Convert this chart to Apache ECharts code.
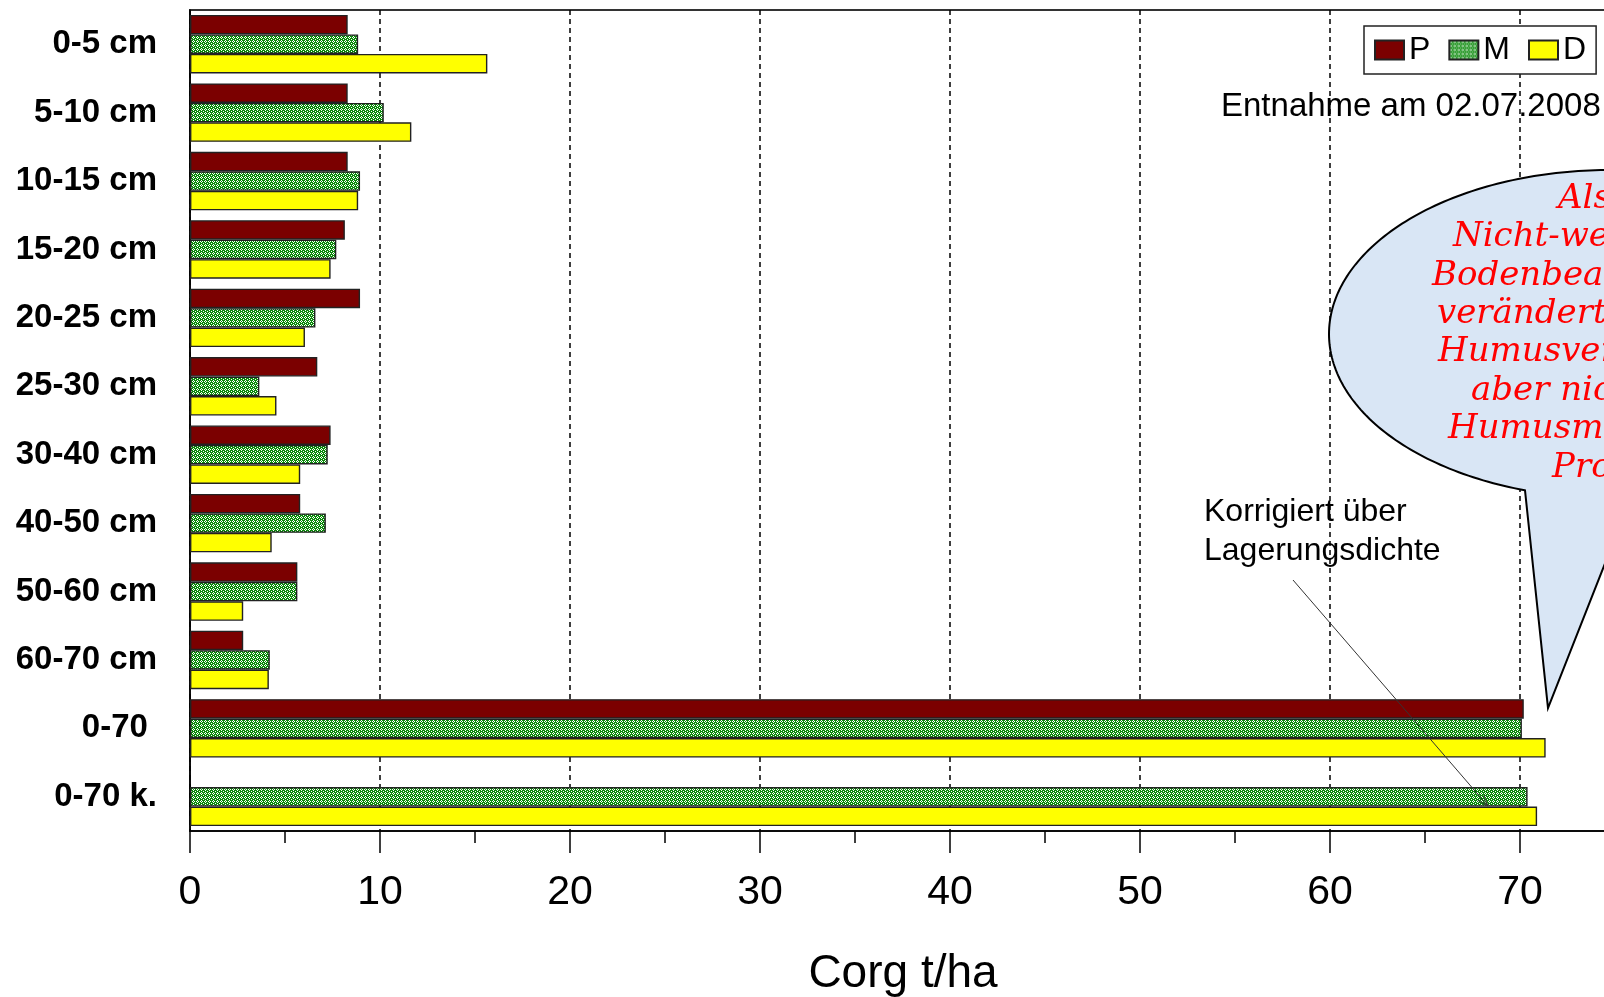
<!DOCTYPE html>
<html>
<head>
<meta charset="utf-8">
<title>Corg t/ha</title>
<script src="https://cdn.jsdelivr.net/npm/echarts@6/dist/echarts.min.js"></script>
<style>
  html, body { margin: 0; padding: 0; background: #ffffff; }
  #chart { width: 1604px; height: 997px; }
</style>
</head>
<body>
<div id="chart"></div>
<script>
// Soil depth layers (top to bottom) and the profile totals
const depths = ['0-5 cm', '5-10 cm', '10-15 cm', '15-20 cm', '20-25 cm', '25-30 cm',
                '30-40 cm', '40-50 cm', '50-60 cm', '60-70 cm', '0-70 ', '0-70 k.'];

// Corg stock in t/ha per variant
const seriesNames = ['P', 'M', 'D'];
const valuesP = [8.3, 8.3, 8.3, 8.15, 8.95, 6.7, 7.4, 5.8, 5.65, 2.8, 70.2, null];
const valuesM = [8.85, 10.2, 8.95, 7.7, 6.6, 3.65, 7.25, 7.15, 5.65, 4.2, 70.1, 70.4];
const valuesD = [15.65, 11.65, 8.85, 7.4, 6.05, 4.55, 5.8, 4.3, 2.8, 4.15, 71.35, 70.9];

// Value axis range and tick step
const xMin = 0, xMax = 80, xStep = 10;

// Texts
const axisTitle = 'Corg t/ha';
const dateNote = 'Entnahme am 02.07.2008';
const correctionNote = ['Korrigiert über', 'Lagerungsdichte'];
const bubbleLines = ['Also:', 'Nicht-wendende', 'Bodenbearbeitung', 'verändert die',
                     'Humusverteilung,', 'aber nicht die', 'Humusmenge im', 'Profil'];

// Green cross-hatch fill for variant M
function makeHatch() {
  const c = document.createElement('canvas');
  c.width = 4; c.height = 4;
  const g = c.getContext('2d');
  g.fillStyle = '#0a8a0a';
  g.fillRect(0, 0, 4, 4);
  g.fillStyle = '#ffffff';
  [[1, 0], [0, 1], [2, 1], [1, 2], [3, 3]].forEach(p => g.fillRect(p[0], p[1], 1, 1));
  return c;
}
const hatch = { image: makeHatch(), repeat: 'repeat' };

const fills = ['#7b0000', hatch, '#ffff00'];
const dataSets = [valuesP, valuesM, valuesD];

const chart = echarts.init(document.getElementById('chart'), null, { renderer: 'canvas' });

// Speech bubble outline: tail triangle joined to an elliptical body
const ell = { cx: 1610, cy: 334, rx: 281, ry: 164 };
function onEllipse(t) { return [ell.cx + ell.rx * Math.cos(t), ell.cy + ell.ry * Math.sin(t)]; }
const tA = Math.acos((1525 - ell.cx) / ell.rx);   // left foot of the tail
const tB = Math.acos((1631 - ell.cx) / ell.rx);   // right foot of the tail
const tailTip = [1548, 708];
const bubblePts = [onEllipse(tA), tailTip, onEllipse(tB)];
for (let t = tB - 0.02; t > tA - 2 * Math.PI; t -= 0.02) bubblePts.push(onEllipse(t));

const bubbleLineX = [1558, 1453, 1432, 1437, 1438, 1471, 1448, 1552];
const bubbleTop = 211, bubbleStep = 38.4;

// Arrow from the correction note to the corrected bars
const arrowFrom = [1293, 580], arrowTo = [1488, 806];
const dx = arrowTo[0] - arrowFrom[0], dy = arrowTo[1] - arrowFrom[1];
const len = Math.hypot(dx, dy), ux = dx / len, uy = dy / len;
const headL = 11, headW = 4;
const headPts = [
  [arrowTo[0] - headL * ux - headW * uy, arrowTo[1] - headL * uy + headW * ux],
  arrowTo,
  [arrowTo[0] - headL * ux + headW * uy, arrowTo[1] - headL * uy - headW * ux]
];

const graphics = [
  {
    type: 'polygon', z: 50,
    shape: { points: bubblePts },
    style: { fill: '#d9e6f5', stroke: '#000000', lineWidth: 2, lineJoin: 'miter' }
  },
  ...bubbleLines.map((t, i) => ({
    type: 'text', z: 51,
    style: {
      text: t, x: bubbleLineX[i], y: bubbleTop + i * bubbleStep - 12,
      fill: '#ff0000', font: 'italic 34px "DejaVu Serif"',
      align: 'left', verticalAlign: 'middle'
    }
  })),
  {
    type: 'text', z: 51,
    style: {
      text: dateNote, x: 1221, y: 107, fill: '#000000',
      font: '33px "Liberation Sans", Arial, sans-serif', align: 'left', verticalAlign: 'middle'
    }
  },
  ...correctionNote.map((t, i) => ({
    type: 'text', z: 51,
    style: {
      text: t, x: 1204, y: 512 + i * 39, fill: '#000000',
      font: '32px "Liberation Sans", Arial, sans-serif', align: 'left', verticalAlign: 'middle'
    }
  })),
  {
    type: 'line', z: 52,
    shape: { x1: arrowFrom[0], y1: arrowFrom[1], x2: arrowTo[0], y2: arrowTo[1] },
    style: { stroke: '#333333', lineWidth: 1 }
  },
  {
    type: 'polyline', z: 52,
    shape: { points: headPts },
    style: { stroke: '#333333', lineWidth: 1, fill: null }
  }
];

const option = {
  backgroundColor: '#ffffff',
  animation: false,
  grid: {
    left: 190, top: 10, width: 1520, height: 821,
    containLabel: false,
    outerBoundsMode: 'none',
    show: true, borderColor: '#333333', borderWidth: 2, backgroundColor: 'transparent'
  },
  legend: {
    data: seriesNames,
    left: 1364, top: 26,
    orient: 'horizontal',
    icon: 'rect',
    itemWidth: 29, itemHeight: 19, itemGap: 18,
    padding: [8, 10, 8, 10],
    backgroundColor: '#ffffff',
    borderColor: '#222222', borderWidth: 1.5, borderRadius: 0,
    textStyle: { fontSize: 32, color: '#000000', fontFamily: '"Liberation Sans", Arial, sans-serif' },
    z: 10
  },
  xAxis: {
    type: 'value',
    min: xMin, max: xMax, interval: xStep,
    name: axisTitle,
    nameLocation: 'middle',
    nameGap: 120,
    nameTextStyle: {
      fontSize: 46, color: '#000000', fontFamily: '"Liberation Sans", Arial, sans-serif',
      padding: [0, 94, 0, 0]
    },
    axisLine: { show: true, onZero: false, lineStyle: { color: '#000000', width: 1.5 } },
    axisTick: { show: true, inside: false, length: 22, lineStyle: { color: '#000000', width: 1.5 } },
    minorTick: { show: true, splitNumber: 2, length: 12, lineStyle: { color: '#000000', width: 1.5 } },
    axisLabel: {
      fontSize: 41, color: '#000000', margin: 41,
      fontFamily: '"Liberation Sans", Arial, sans-serif'
    },
    splitLine: { show: true, lineStyle: { color: '#000000', width: 1.5, type: [5, 4] } },
    minorSplitLine: { show: false }
  },
  yAxis: {
    type: 'category',
    data: depths,
    inverse: true,
    axisLine: { show: true, lineStyle: { color: '#000000', width: 1.5 } },
    axisTick: { show: false },
    axisLabel: {
      fontSize: 33, fontWeight: 'bold', color: '#000000', margin: 33,
      padding: [6, 0, 0, 0],
      fontFamily: '"Liberation Sans", Arial, sans-serif'
    },
    splitLine: { show: false }
  },
  series: seriesNames.map((n, i) => ({
    name: n,
    type: 'bar',
    data: dataSets[i],
    barGap: '0%',
    barCategoryGap: '14.5%',
    itemStyle: { color: fills[i], borderColor: '#222222', borderWidth: 1.4 },
    emphasis: { disabled: true }
  })),
  graphic: graphics
};

chart.setOption(option);
</script>
</body>
</html>
